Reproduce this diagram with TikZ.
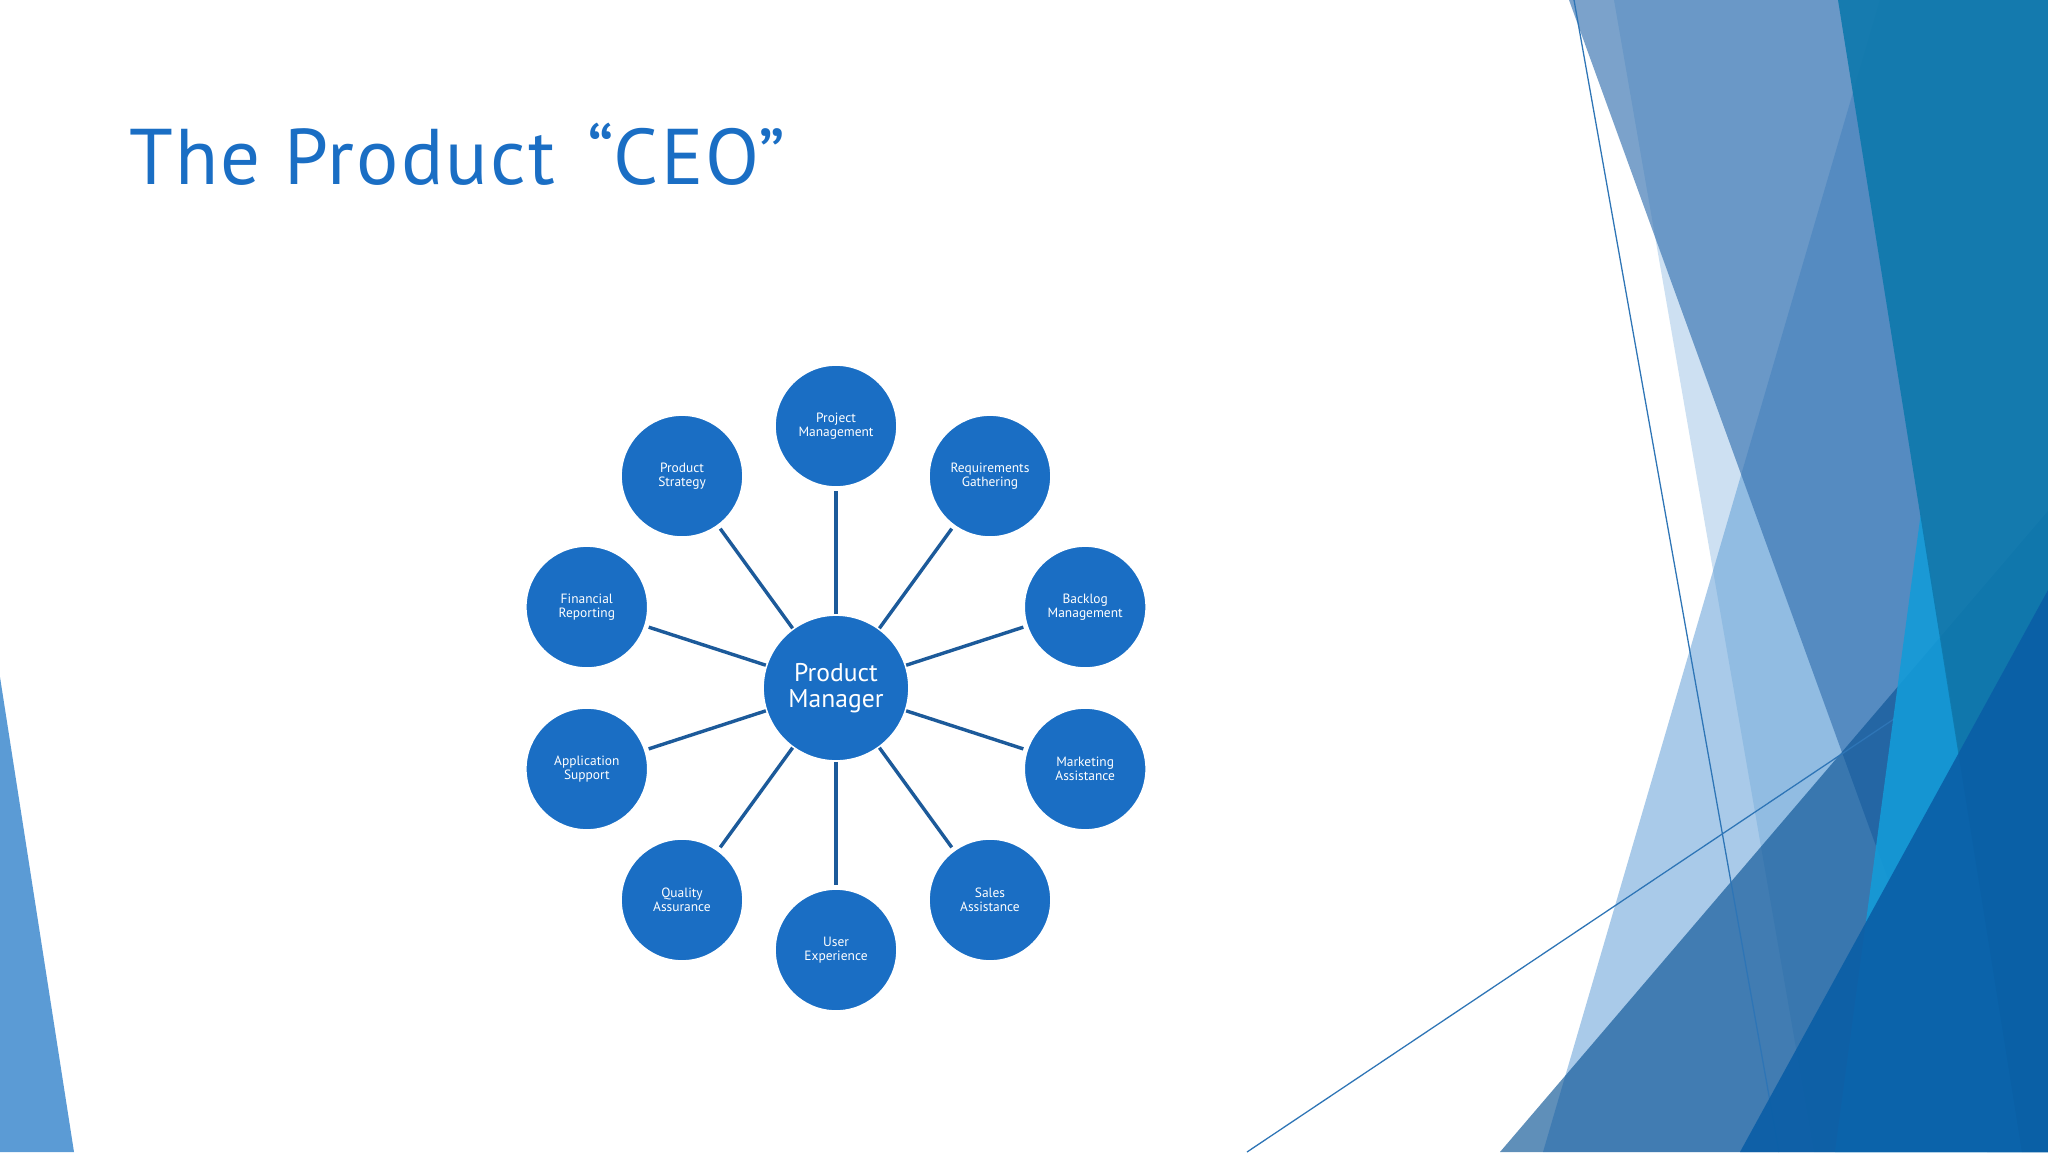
\documentclass[tikz,border=0pt]{standalone}
\usepackage{fontspec}
\setmainfont{PT Sans}
\usetikzlibrary{calc}
\definecolor{pmblue}{HTML}{1A6EC4}
\definecolor{spokeblue}{HTML}{1C5A9A}
\definecolor{facetlight}{HTML}{5B9BD5}
\definecolor{facetsteel}{HTML}{3773B1}
\definecolor{facetdeep}{HTML}{0A5395}
\definecolor{facetbright}{HTML}{149BD8}
\definecolor{facetteal}{HTML}{0F79AD}
\definecolor{facetnavy}{HTML}{0A5EA6}
\definecolor{facetline}{HTML}{2E75B6}

\begin{document}
\begin{tikzpicture}[x=0.4688pt, y=-0.4688pt, topic/.style = {shape=circle,
          draw=white, line width=0.8pt, fill=pmblue, text=white, align=center,
          minimum size=57.2pt, inner sep=0pt,
          font=\fontsize{6.3}{6.4}\selectfont}, manager/.style =
        {shape=circle, draw=white, line width=0.8pt, fill=pmblue,
          text=white, align=center, minimum size=68.4pt, inner sep=0pt,
          font=\fontsize{12}{12.5}\selectfont}, spoke/.style={draw=spokeblue,
          line width=1.6pt, shorten >=1.5pt}, facet/.style={draw=none}]

        % page and theme facets
        \useasboundingbox (0,0) rectangle (2048,1152);
        \fill[white] (0,0) rectangle (2048,1152);
        \fill[facetlight] (0,677) -- (74,1152) -- (0,1152) -- cycle;
        \fill[facet, facetlight, opacity=.3] (1614,0) -- (2048,0) -- (2048,1152) -- (1814,1152) -- cycle;
        \fill[facet, facetlight, opacity=.52] (1880,0) -- (2048,0) -- (2048,1152) -- (1543,1152) -- cycle;
        \fill[facet, facetsteel, opacity=.66] (1569,0) -- (2048,0) -- (2048,1152) -- (1987,1152) -- cycle;
        \fill[facet, facetdeep, opacity=.65] (1500,1152) -- (2048,511) -- (2048,1152) -- cycle;
        \draw[facetline, line width=0.6pt] (1574,0) -- (1779,1152);
        \draw[facetline, line width=0.6pt] (1247,1152) -- (1894,719);
        \fill[facet, facetbright, opacity=.9] (1921,512) -- (2022,1152) -- (1835,1152) -- cycle;
        \fill[facet, facetteal, opacity=.92] (1838,0) -- (2048,0) -- (2048,1152) -- (2022,1152) -- cycle;
        \fill[facet, facetnavy, opacity=.9] (2048,590) -- (2048,1152) -- (1740,1152) -- cycle;

        % title
        \node [anchor=base west, inner sep=0pt, text=pmblue,
          font=\fontsize{37}{40}\selectfont\addfontfeatures{LetterSpace=2.8}]
          (title) at (129,184) {The Product\hspace{0.12em} “CEO”};

        \node [manager] (pm) at (836,688) {Product\\Manager};

        \foreach \ang/\nm/\txt in {90/project/{Project\\Management},
            54/requirements/{Requirements\\Gathering},
            18/backlog/{Backlog\\Management},
            -18/marketing/{Marketing\\Assistance},
            -54/sales/{Sales\\Assistance},
            -90/ux/{User\\Experience},
            -126/quality/{Quality\\Assurance},
            -162/support/{Application\\Support},
            162/financial/{Financial\\Reporting},
            126/strategy/{Product\\Strategy}} {
          \node [topic] (\nm) at ({836+262*cos(\ang)},{688-262*sin(\ang)}) {\txt};
          \draw [spoke] (pm) -- (\nm);
        }
      \end{tikzpicture}
\end{document}
